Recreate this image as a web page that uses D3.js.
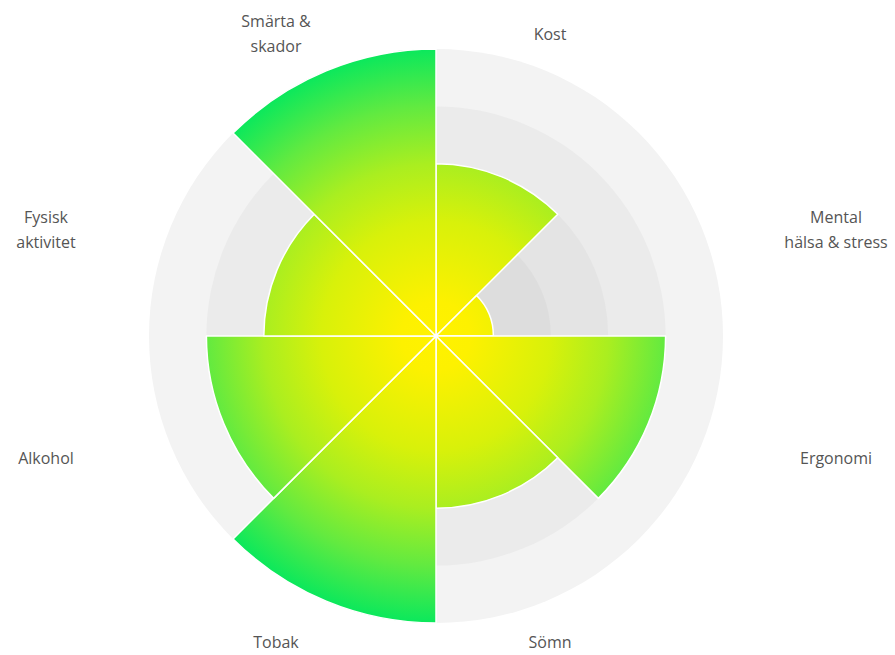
<!DOCTYPE html>
<html>
<head>
<meta charset="utf-8">
<script src="https://cdn.jsdelivr.net/npm/d3@7"></script>
<style>
  html, body { margin: 0; padding: 0; background: #fff; }
  #chart text { font-family: "Open Sans", "Lato", sans-serif; fill: #555; }
</style>
</head>
<body>
<div id="chart"></div>
<script>
// wedges go clockwise from 12 o'clock
var categories = ["Kost", "Mental\nhälsa & stress", "Ergonomi", "Sömn", "Tobak", "Alkohol", "Fysisk\naktivitet", "Smärta &\nskador"];
var scores = [3, 1, 4, 3, 5, 4, 3, 5];
var levels = [5, 4, 3, 2, 1];
var levelColors = ["#f3f3f3", "#ebebeb", "#e4e4e4", "#dddddd", "#d6d6d6"];

var width = 895,
    height = 655,
    cx = 436,
    cy = 336;

var svg = d3.select("#chart")
            .append("svg")
            .attr("width", width)
            .attr("height", height);

var r = d3.scaleLinear().domain([0, 5]).range([0, 287]);
var angle = d3.scaleBand().domain(d3.range(categories.length)).range([0, 2 * Math.PI]);

var grad = svg.append("defs").append("radialGradient")
              .attr("id", "fillGrad")
              .attr("gradientUnits", "userSpaceOnUse")
              .attr("cx", 0).attr("cy", 0).attr("r", r(5));
[["0%", "#fff200"], ["12%", "#fdf100"], ["40%", "#d8f10a"], ["60%", "#aaee20"], ["80%", "#62ea40"], ["100%", "#0be85c"]]
  .forEach((s) => { grad.append("stop").attr("offset", s[0]).attr("stop-color", s[1]); });

var g = svg.append("g").attr("transform", `translate(${cx},${cy})`);

// grey rings behind
g.selectAll(".ring")
 .data(levels)
 .enter()
 .append("circle")
 .attr("class", "ring")
 .attr("r", (d) => r(d))
 .style("fill", (d, i) => levelColors[i]);

var arc = d3.arc()
            .innerRadius(0)
            .outerRadius((d, i) => r(d))
            .startAngle((d, i) => angle(i))
            .endAngle((d, i) => angle(i) + angle.bandwidth());

g.selectAll(".wedge")
 .data(scores)
 .enter()
 .append("path")
 .attr("class", "wedge")
 .attr("d", arc)
 .style("fill", "url(#fillGrad)")
 .style("stroke", "#fff")
 .style("stroke-width", 1.5)
 .style("stroke-linejoin", "round");

// labels sit in a box around the chart, not on a circle
var labels = svg.selectAll(".label")
                .data(categories)
                .enter()
                .append("text")
                .attr("class", "label")
                .style("font-size", "16px")
                .attr("text-anchor", "middle")
                .attr("transform", (d, i) => {
                  var a = angle(i) + angle.bandwidth() / 2,
                      sx = Math.sin(a) > 0 ? 1 : -1,
                      sy = Math.cos(a) > 0 ? -1 : 1,
                      side = Math.abs(Math.sin(a)) > Math.abs(Math.cos(a));
                  var x = side ? cx + 5 + sx * 395 : cx - 23 + sx * 137,
                      y = side ? cy + 8 + sy * 114 : cy + (sy < 0 ? -302 : 306);
                  return `translate(${x},${y})`;
                });

labels.each(function(d) {
  var lines = d.split("\n"),
      t = d3.select(this);
  lines.forEach((line, k) => {
    t.append("tspan")
     .attr("x", 0)
     .attr("y", (k - (lines.length - 1) / 2) * 25)
     .attr("dy", "0.35em")
     .text(line);
  });
});
</script>
</body>
</html>
